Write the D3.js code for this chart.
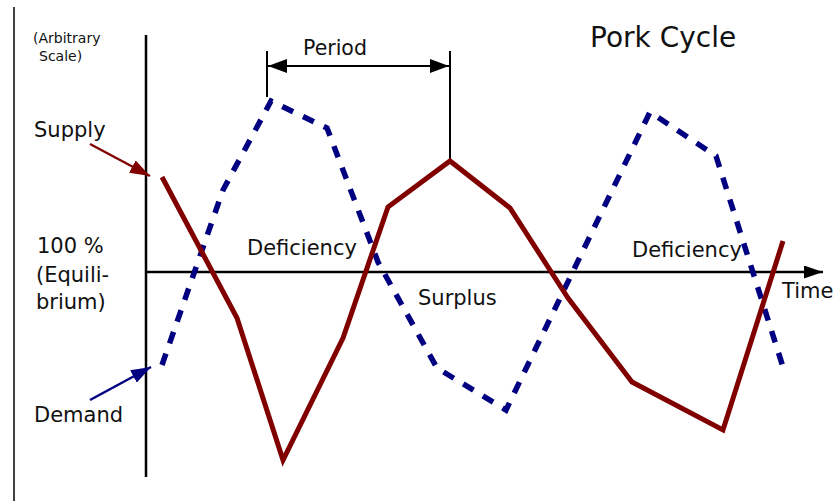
<!DOCTYPE html>
<html>
<head>
<meta charset="utf-8">
<script src="https://cdn.jsdelivr.net/npm/d3@7"></script>
<style>
  html, body { margin: 0; padding: 0; background: #fff; }
  svg { display: block; }
  text { font-family: "DejaVu Sans", sans-serif; fill: #111; }
</style>
</head>
<body>
<svg id="chart" width="835" height="501"></svg>
<script>
// ---- data (time in arbitrary units, level in % of equilibrium) ----
const supplyTime  = [8, 45.5, 68.5, 98.5, 121, 152, 182, 211, 243, 288.5, 318.5];
const supplyLevel = [147.5, 77, 6, 67, 132.5, 155.5, 132, 87, 45, 21, 115.5];
const demandTime  = [8, 38.5, 62.5, 90.5, 116, 145.5, 180, 252, 285, 318.5];
const demandLevel = [53.5, 141, 185.5, 172, 105, 52, 31, 180, 158, 52.5];
const equilibrium = 100;
const periodStart = 60.5, periodEnd = 152;
const regionLabels = [
  {text: "Deficiency", t: 50.5, v: 108.5},
  {text: "Surplus",    t: 136, v: 83.5},
  {text: "Deficiency", t: 243, v: 107.5}
];

const svg = d3.select("#chart");
const x = d3.scaleLinear().domain([0, 335]).range([146, 816]);
const y = d3.scaleLinear().domain([0, 200]).range([472, 72]);

const defs = svg.append("defs");
function marker(id, color, len, half) {
  defs.append("marker").attr("id", id)
    .attr("markerUnits", "userSpaceOnUse")
    .attr("viewBox", `0 ${-half} ${len} ${2*half}`)
    .attr("refX", len).attr("refY", 0)
    .attr("markerWidth", len).attr("markerHeight", 2*half)
    .attr("orient", "auto-start-reverse")
    .append("path").attr("d", `M0,${-half}L${len},0L0,${half}Z`).attr("fill", color);
}
marker("ab", "#000", 19, 6.5);
marker("ap", "#000", 19, 7);
marker("as", "#800000", 20, 7);
marker("ad", "#000080", 20, 7);

// left frame line
svg.append("line").attr("x1", 14).attr("x2", 14).attr("y1", 7).attr("y2", 501)
  .attr("stroke", "#000").attr("stroke-width", 1.5);

// axes
svg.append("line").attr("x1", x(0)).attr("x2", x(0)).attr("y1", y(218.5)).attr("y2", y(-2.5))
  .attr("stroke", "#000").attr("stroke-width", 2.5);
svg.append("line").attr("x1", x(0)).attr("x2", x(338.5)).attr("y1", y(equilibrium)).attr("y2", y(equilibrium))
  .attr("stroke", "#000").attr("stroke-width", 2.5).attr("marker-end", "url(#ab)");

// period bracket
const dPeakIdx = demandLevel.indexOf(d3.max(demandLevel.slice(0, 5)));
const sPeakIdx = supplyLevel.indexOf(d3.max(supplyLevel));
svg.append("line").attr("x1", x(periodStart)).attr("x2", x(periodStart))
  .attr("y1", y(210.5)).attr("y2", y(187.5)).attr("stroke", "#000").attr("stroke-width", 2);
svg.append("line").attr("x1", x(periodEnd)).attr("x2", x(periodEnd))
  .attr("y1", y(210.5)).attr("y2", y(supplyLevel[sPeakIdx])).attr("stroke", "#000").attr("stroke-width", 2);
svg.append("line").attr("x1", x(periodStart) + 1).attr("x2", x(periodEnd) - 1)
  .attr("y1", y(203)).attr("y2", y(203)).attr("stroke", "#000").attr("stroke-width", 2)
  .attr("marker-start", "url(#ap)").attr("marker-end", "url(#ap)");

// series
const line = d3.line().x(d => x(d[0])).y(d => y(d[1]));
svg.append("path")
  .attr("d", line(demandTime.map((t, i) => [t, demandLevel[i]])))
  .attr("fill", "none").attr("stroke", "#000080").attr("stroke-width", 5.5)
  .attr("stroke-dasharray", "12,11").attr("stroke-linejoin", "miter");
svg.append("path")
  .attr("d", line(supplyTime.map((t, i) => [t, supplyLevel[i]])))
  .attr("fill", "none").attr("stroke", "#800000").attr("stroke-width", 5)
  .attr("stroke-linejoin", "miter");

// pointer arrows
svg.append("line").attr("x1", 90).attr("y1", 144)
  .attr("x2", x(supplyTime[0]) - 12).attr("y2", y(supplyLevel[0]) - 1)
  .attr("stroke", "#800000").attr("stroke-width", 2.5).attr("marker-end", "url(#as)");
svg.append("line").attr("x1", 90).attr("y1", 400)
  .attr("x2", x(demandTime[0]) - 11).attr("y2", y(demandLevel[0]) + 2)
  .attr("stroke", "#000080").attr("stroke-width", 2.5).attr("marker-end", "url(#ad)");

// texts
const T = (s, px, py, size, anchor) => svg.append("text").attr("x", px).attr("y", py)
  .attr("font-size", size).attr("text-anchor", anchor || "start").text(s);
T("Pork Cycle", 590, 47, 28);
T("Period", 303, 55, 20.5);
T("(Arbitrary", 33, 43, 14);
T("Scale)", 39, 61, 14);
T("Supply", 34, 137, 21);
T("Demand", 34, 422, 21);
T("100 %", 37, 253, 21);
T("(Equili-", 36, 282, 21);
T("brium)", 36, 309, 21);
T("Time", 782, 298, 21);
regionLabels.forEach(r => T(r.text, x(r.t), y(r.v), 21));
</script>
</body>
</html>
